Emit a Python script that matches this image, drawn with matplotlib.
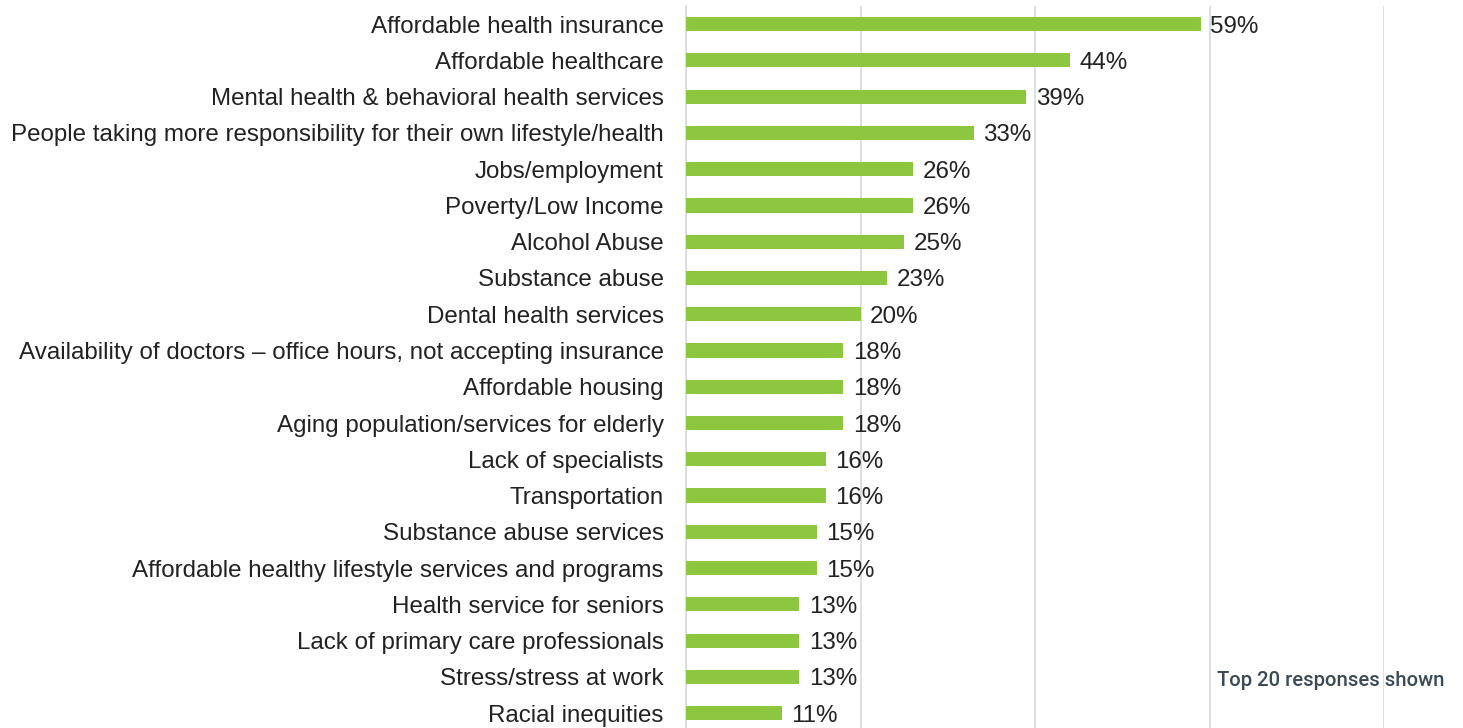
import matplotlib
matplotlib.use("Agg")
import matplotlib.pyplot as plt

categories = [
    "Affordable health insurance",
    "Affordable healthcare",
    "Mental health & behavioral health services",
    "People taking more responsibility for their own lifestyle/health",
    "Jobs/employment",
    "Poverty/Low Income",
    "Alcohol Abuse",
    "Substance abuse",
    "Dental health services",
    "Availability of doctors \u2013 office hours, not accepting insurance",
    "Affordable housing",
    "Aging population/services for elderly",
    "Lack of specialists",
    "Transportation",
    "Substance abuse services",
    "Affordable healthy lifestyle services and programs",
    "Health service for seniors",
    "Lack of primary care professionals",
    "Stress/stress at work",
    "Racial inequities",
]
values = [59, 44, 39, 33, 26, 26, 25, 23, 20, 18, 18, 18, 16, 16, 15, 15, 13, 13, 13, 11]
note = "Top 20 responses shown"

plt.rcParams['font.family'] = ['Liberation Sans', 'DejaVu Sans']

fig = plt.figure(figsize=(14.63, 7.28), dpi=100)
ax = fig.add_axes([686 / 1463, 0, (1384 - 686) / 1463, 1 - 6 / 728])

y = list(range(len(categories)))
ax.barh(y, values, height=0.39, color='#8dc63f', zorder=3)
for yi, v in zip(y, values):
    ax.text(v + 1.1, yi, f"{v}%", va='center_baseline', ha='left', fontsize=17.4, color='#222222')

ax.set_xlim(0, 80)
ax.set_ylim(19.41, -0.5)
ax.set_xticks([0, 20, 40, 60, 80])
ax.xaxis.grid(True, color='#d9d9d9', linewidth=1.2, zorder=0)
ax.tick_params(axis='x', length=0, labelbottom=False)
ax.set_yticks(y)
ax.set_yticklabels(categories, fontsize=17.4, color='#222222', va='center_baseline')
ax.tick_params(axis='y', length=0, pad=16)
for s in ['top', 'right', 'bottom']:
    ax.spines[s].set_visible(False)
ax.spines['left'].set_color('#d9d9d9')
ax.spines['left'].set_linewidth(1.2)

fig.text(1217 / 1463, 1 - 681 / 728, note, fontsize=14.6, family=['Roboto', 'DejaVu Sans'],
         fontweight='medium', color='#3b4a54', va='center', ha='left')

fig.savefig("out.png", dpi=100)
